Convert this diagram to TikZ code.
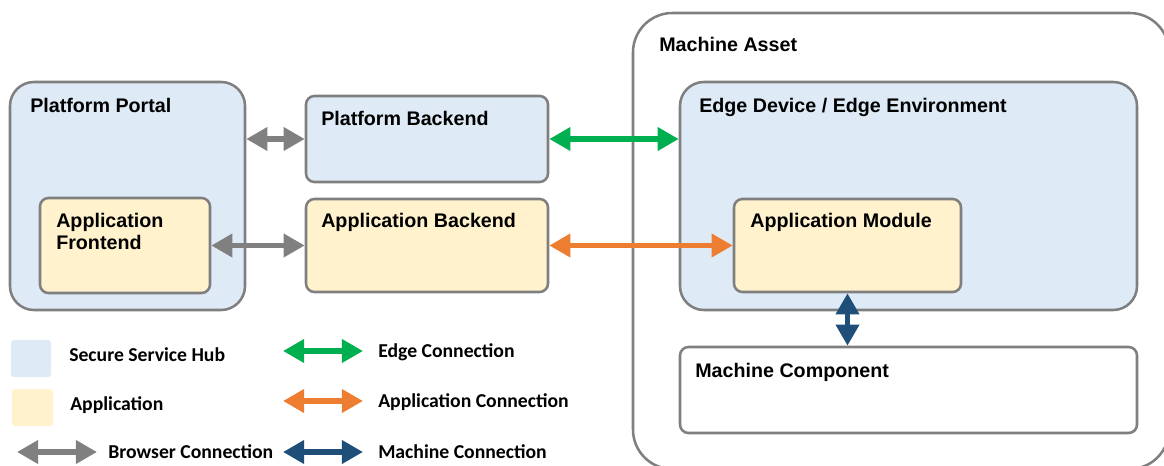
\documentclass[tikz,border=0pt]{standalone}
\usepackage{fontspec}
\setmainfont{Liberation Sans}
\newfontfamily\legendfont{Carlito}
\usetikzlibrary{arrows.meta,fit}

\definecolor{hubblue}{HTML}{DEEBF7}
\definecolor{appyellow}{HTML}{FFF2CC}
\definecolor{framegray}{HTML}{7F7F7F}
\definecolor{browsergray}{HTML}{808080}
\definecolor{edgegreen}{HTML}{00B050}
\definecolor{apporange}{HTML}{ED7D31}
\definecolor{machineblue}{HTML}{1F4E79}

\tikzset{
  box/.style={draw=framegray, line width=1.8pt, inner sep=0pt},
  hubbox/.style={box, fill=hubblue, rounded corners=17pt},
  appbox/.style={box, fill=appyellow, rounded corners=6pt},
  smallhub/.style={box, fill=hubblue, rounded corners=6pt},
  conn/.style={line width=3.9pt, {Triangle[length=15pt,width=16pt]}-{Triangle[length=15pt,width=16pt]}},
  title/.style={font=\bfseries\fontsize{14}{16}\selectfont, inner sep=0pt, anchor=base west},
  keytext/.style={font=\legendfont\bfseries\fontsize{14}{16}\selectfont, inner sep=0pt, anchor=base west},
  keybox/.style={inner sep=0pt, rounded corners=2pt}
}

\begin{document}
\begin{tikzpicture}[x=0.025cm, y=-0.025cm]
            \useasboundingbox (0,0) rectangle (1164,466);
            \clip (0,0) rectangle (1164,466);
            % machine side
            \node[box, rounded corners=28pt, fit={(633,13) (1169,469)}] (ma) {};
            \node[title] (matitle) at (659,52) {Machine Asset};
            \node[hubbox, fit={(680,82) (1137,310)}] (ed) {};
            \node[title] (edtitle) at (699,113) {Edge Device / Edge Environment};
            \node[appbox, fit={(734,199) (961,292)}] (am) {};
            \node[title] (amtitle) at (750,227) {Application Module};
            \node[box, fill=white, rounded corners=6pt, fit={(680,347) (1137,433)}] (mc) {};
            \node[title] (mctitle) at (695,377) {Machine Component};
            % hub side
            \node[hubbox, fit={(10,82) (245,310)}] (pp) {};
            \node[title] (pptitle) at (30,113) {Platform Portal};
            \node[appbox, fit={(40,198) (210,293)}] (af) {};
            \node[title, align=left, anchor=north west] (aftitle) at (56,212.5) {Application\\Frontend};
            \node[smallhub, fit={(306,96) (548,182)}] (pb) {};
            \node[title] (pbtitle) at (321,125) {Platform Backend};
            \node[appbox, fit={(306,199) (548,292)}] (ab) {};
            \node[title] (abtitle) at (321,227) {Application Backend};
            % connections
            \draw[conn, browsergray] (pp.east |- pb.west) -- (pb.west);
            \draw[conn, browsergray] (af.east) -- (ab.west);
            \draw[conn, edgegreen] (pb.east) -- (pb.east -| ed.west);
            \draw[conn, apporange] (ab.east) -- (am.west);
            \draw[conn, machineblue] (am.south) -- (am.south |- mc.north);
            % legend
            \node[keybox, fill=hubblue, fit={(11,340) (51,377)}] (keyhub) {};
            \node[keytext] (keyhubtext) at (69,361) {Secure Service Hub};
            \node[keybox, fill=appyellow, fit={(12,389) (53,426)}] (keyapp) {};
            \node[keytext] (keyapptext) at (70,410) {Application};
            \coordinate (kb1) at (17,452);
            \coordinate (kb2) at (97,452);
            \draw[conn, browsergray] (kb1) -- (kb2);
            \node[keytext] (kbtext) at (108,458) {Browser Connection};
            \coordinate (ke1) at (283,351);
            \coordinate (ke2) at (363,351);
            \draw[conn, edgegreen] (ke1) -- (ke2);
            \node[keytext] (ketext) at (378,357) {Edge Connection};
            \coordinate (ka1) at (283,401);
            \coordinate (ka2) at (363,401);
            \draw[conn, apporange] (ka1) -- (ka2);
            \node[keytext] (katext) at (378,407) {Application Connection};
            \coordinate (km1) at (283,452);
            \coordinate (km2) at (363,452);
            \draw[conn, machineblue] (km1) -- (km2);
            \node[keytext] (kmtext) at (378,458) {Machine Connection};
        \end{tikzpicture}
\end{document}
